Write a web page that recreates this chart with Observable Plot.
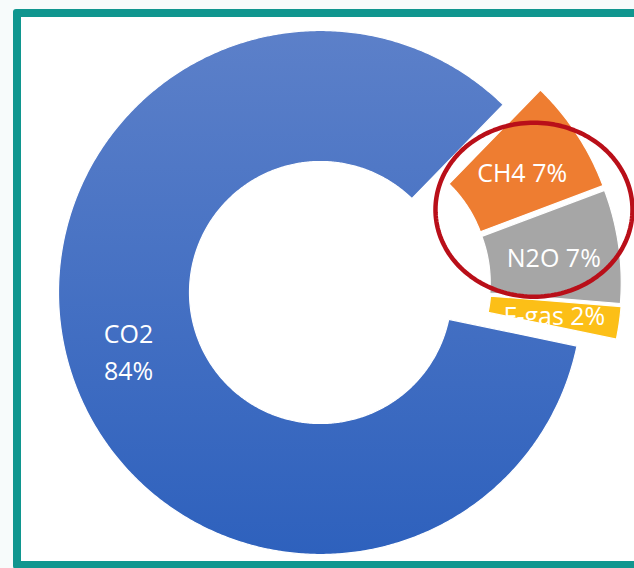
<!DOCTYPE html>
<html><head><meta charset="utf-8">
<script src="https://cdn.jsdelivr.net/npm/d3@7"></script>
<script src="https://cdn.jsdelivr.net/npm/@observablehq/plot@0.6"></script>
<style>
html,body{margin:0;padding:0;background:#f7fbfb;overflow:hidden;width:634px;height:568px;}
#frame{position:absolute;left:13px;top:9px;width:640px;height:544px;border:8px solid #10968f;border-radius:3px;background:#fff;}
#chart{position:absolute;left:0;top:0;}
</style></head><body>
<div id="frame"></div><div id="chart"></div>
<script>
// ---- data ----
const gases = ["CO2", "CH4", "N2O", "F-gas"];
const shares = [84, 7, 7, 2];
const labels = ["CO2\n84%", "CH4 7%", "N2O 7%", "F-gas 2%"];
const exploded = ["CH4", "N2O", "F-gas"];
const highlighted = ["CH4", "N2O"];

// ---- layout / style ----
const W = 634, H = 568, CX = 320, CY = 292, R = 262;
const innerR = 0.5;           // hole radius relative to outer
const startDeg = 101.8;       // clockwise from 12 o'clock
const explodeDist = 40 / R;
const spreadFactor = 0.28;
const fills = {"CO2": "url(#co2grad)", "CH4": "#ee7d31", "N2O": "#a6a6a6", "F-gas": "#fcbf17"};

const rows = gases.map((g, i) => ({gas: g, share: shares[i], label: labels[i]}));
const start = startDeg * Math.PI / 180;
const arcs = d3.pie().sort(null).value(d => d.share).startAngle(start).endAngle(start + 2 * Math.PI)(rows);

const ex = arcs.filter(a => exploded.includes(a.data.gas));
const groupMid = (d3.min(ex, a => a.startAngle) + d3.max(ex, a => a.endAngle)) / 2;

arcs.forEach(a => {
  const mid = (a.startAngle + a.endAngle) / 2;
  a.mid = mid;
  if (exploded.includes(a.data.gas)) {
    const dir = groupMid + spreadFactor * (mid - groupMid);
    a.ox = Math.sin(dir) * explodeDist;
    a.oy = Math.cos(dir) * explodeDist;
  } else { a.ox = 0; a.oy = 0; }
});

// slice polygons
const pts = [];
arcs.forEach(a => {
  const n = Math.max(4, Math.ceil((a.endAngle - a.startAngle) / (Math.PI / 360)));
  const outer = [], inner = [];
  for (let k = 0; k <= n; k++) {
    const t = a.startAngle + (a.endAngle - a.startAngle) * k / n;
    outer.push({t, r: 1});
    inner.push({t, r: innerR});
  }
  inner.reverse();
  [...outer, ...inner].forEach(p => pts.push({
    gas: a.data.gas, fill: fills[a.data.gas],
    x: Math.sin(p.t) * p.r + a.ox, y: Math.cos(p.t) * p.r + a.oy
  }));
});

// label positions
const rm = (1 + innerR) / 2;
const labelPts = arcs.map(a => ({
  gas: a.data.gas, text: a.data.label,
  x: Math.sin(a.mid) * rm + a.ox - (a.data.gas === "CO2" ? 4 / R : 0),
  y: Math.cos(a.mid) * rm + a.oy
}));

// highlight ellipse around highlighted slices
const hl = labelPts.filter(d => highlighted.includes(d.gas));
const ecx = d3.mean(hl, d => d.x) - 4 / R, ecy = d3.mean(hl, d => d.y) + 3 / R;
const erx = 98.5 / R, ery = 87 / R;
const ell = d3.range(0, 181).map(k => {
  const t = k / 180 * 2 * Math.PI;
  return {x: ecx + erx * Math.cos(t), y: ecy + ery * Math.sin(t)};
});

const plot = Plot.plot({
  width: W, height: H, margin: 0,
  x: {domain: [-CX / R, (W - CX) / R], axis: null},
  y: {domain: [-(H - CY) / R, CY / R], axis: null},
  color: {type: "identity"},
  style: {background: "transparent", overflow: "visible"},
  marks: [
    Plot.line(pts, {x: "x", y: "y", z: "gas", fill: "fill", stroke: "white", strokeWidth: 1.2, curve: "linear-closed"}),
    Plot.text(labelPts, {x: "x", y: "y", text: "text", fill: "white", fontSize: 25,
      fontFamily: "Open Sans, sans-serif", lineHeight: 1.48}),
    Plot.line(ell, {x: "x", y: "y", stroke: "#b90f19", strokeWidth: 4.5, curve: "linear-closed"})
  ]
});

const ns = "http://www.w3.org/2000/svg";
const defs = document.createElementNS(ns, "defs");
const grad = document.createElementNS(ns, "linearGradient");
grad.setAttribute("id", "co2grad");
grad.setAttribute("x1", "0"); grad.setAttribute("y1", "0");
grad.setAttribute("x2", "0"); grad.setAttribute("y2", "1");
[["0", "#5c80c9"], ["1", "#2e61bd"]].forEach(([o, c]) => {
  const s = document.createElementNS(ns, "stop");
  s.setAttribute("offset", o); s.setAttribute("stop-color", c);
  grad.appendChild(s);
});
defs.appendChild(grad);
plot.insertBefore(defs, plot.firstChild);
document.getElementById("chart").appendChild(plot);
</script>
</body></html>
